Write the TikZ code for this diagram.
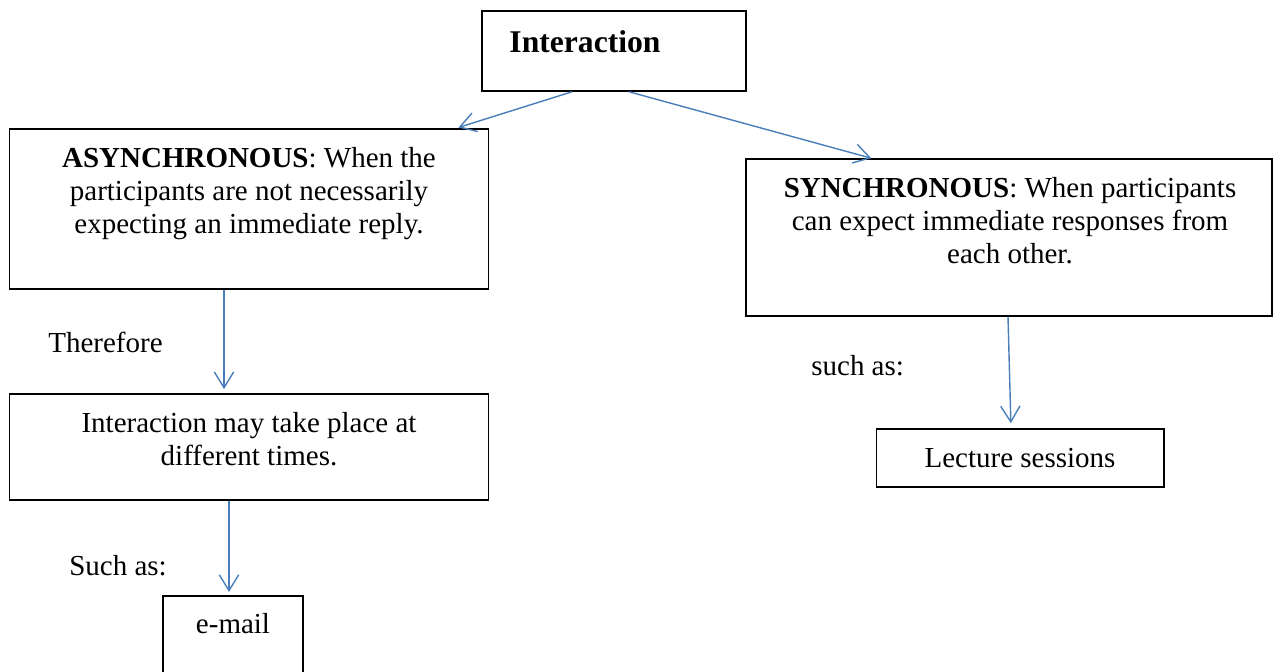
\documentclass[tikz,border=0pt]{standalone}
\usepackage{fontspec}
\setmainfont{Liberation Serif}
\usetikzlibrary{arrows.meta,calc}

\definecolor{linkblue}{HTML}{4A7EBB}
\tikzset{
  box/.style={draw=black, line width=0.6pt, inner sep=0pt},
  heavybox/.style={box, line width=0.9pt},
  txt/.style={inner sep=0pt, align=center, font=\fontsize{16.5}{18.7}\selectfont},
  link/.style={draw=linkblue, line width=0.8pt, -{Straight Barb[length=9pt,width=11pt]}},
}

\begin{document}
\begin{tikzpicture}[x=0.02cm, y=-0.02cm]
\clip (0,0) rectangle (1274,672);

% boxes
\node[heavybox, minimum width=5.28cm, minimum height=1.6cm] (inter) at (614,51) {};
\node[box, minimum width=9.6cm, minimum height=3.2cm] (async) at (249,209) {};
\node[box, minimum width=9.6cm, minimum height=2.12cm] (times) at (249,447) {};
\node[box, minimum width=2.8cm, minimum height=2.4cm] (email) at (233,656) {};
\node[heavybox, minimum width=10.52cm, minimum height=3.14cm] (sync) at (1009,237.5) {};
\node[box, minimum width=5.76cm, minimum height=1.16cm] (lect) at (1020,458) {};

% texts inside
\node[inner sep=0pt, anchor=base, font=\fontsize{18}{20}\selectfont\bfseries] (intertxt) at (585,53) {Interaction};
\node[txt, anchor=north] (asynctxt) at (249,147)
  {\textbf{ASYNCHRONOUS}: When the\\ participants are not necessarily\\ expecting an immediate reply.};
\node[txt, anchor=north] (timestxt) at (249,412)
  {Interaction may take place at\\ different times.};
\node[txt, anchor=base] (emailtxt) at (233,633) {e-mail};
\node[txt, anchor=north] (synctxt) at (1010,177)
  {\textbf{SYNCHRONOUS}: When participants\\ can expect immediate responses from\\ each other.};
\node[txt, anchor=base] (lecttxt) at (1020,467) {Lecture sessions};

% labels beside the arrows
\node[txt, anchor=base west] (therefore) at (48,352) {Therefore};
\node[txt, anchor=base west] (suchas) at (69,575) {Such as:};
\node[txt, anchor=base west] (suchas2) at (811,375) {such as:};

% arrows
\draw[link] ($(inter.south)+(-42,0)$) -- ($(async.north east)+(-31,-1)$);
\draw[link] ($(inter.south)+(15,0)$) -- ($(sync.north west)+(126,0)$);
\draw[link, shorten >=2.5pt] ($(async.south)+(-25,0)$) -- ($(times.north)+(-25,0)$);
\draw[link, shorten >=2pt] ($(times.south)+(-20,0)$) -- ($(email.north)+(-4,0)$);
\draw[link, shorten >=3pt] ($(sync.south)+(-1,0)$) -- ($(lect.north)+(-9,0)$);
\end{tikzpicture}
\end{document}
